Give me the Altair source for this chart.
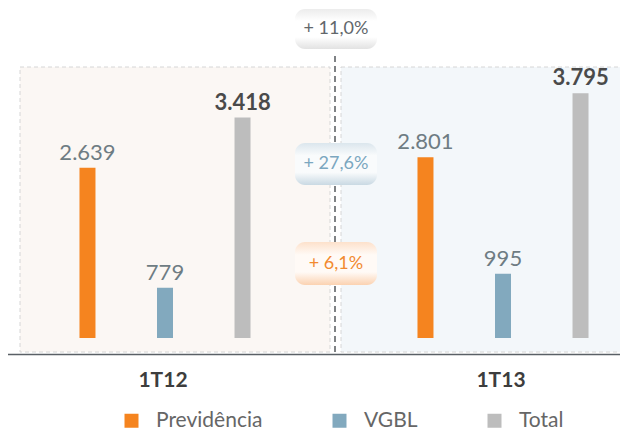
import altair as alt
import pandas as pd

# ---------------- data ----------------
grupos = ["1T12", "1T13"]
series = ["Previdência", "VGBL", "Total"]
previdencia = [2639, 2801]
vgbl = [779, 995]
total = [3418, 3795]
crescimento_rotulos = ["+ 11,0%", "+ 27,6%", "+ 6,1%"]
crescimento_series = ["Total", "VGBL", "Previdência"]

cores = ["#f5841f", "#82a9be", "#bdbdbd"]

rows = []
for s, vals in zip(series, [previdencia, vgbl, total]):
    for g, v in zip(grupos, vals):
        rows.append({"grupo": g, "serie": s, "valor": v,
                     "rotulo": f"{v:,}".replace(",", ".")})
df = pd.DataFrame(rows)
badge_df = pd.DataFrame({"rotulo": crescimento_rotulos, "serie": crescimento_series})

# ---------------- layout / style ----------------
W, H = 612, 346
FONT = "Lato"
y_scale = alt.Scale(domain=[-248, 5116], zero=False, nice=False)
x_scale = alt.Scale(domain=grupos, range=[-12, 664], paddingInner=0, paddingOuter=0)
xo_scale = alt.Scale(domain=series, paddingInner=0, paddingOuter=0.68)

one = pd.DataFrame({"k": [0]})

left_panel = alt.Chart(one).mark_rect(
    fill="#fbf7f4", stroke="#d6d6d6", strokeDash=[4, 3], strokeWidth=1
).encode(x=alt.value(12), x2=alt.value(322), y=alt.value(59), y2=alt.value(344))

right_panel = alt.Chart(one).mark_rect(
    fill="#f3f7fa", stroke="#d6d6d6", strokeDash=[4, 3], strokeWidth=1
).encode(x=alt.value(333), x2=alt.value(640), y=alt.value(59), y2=alt.value(344))

center_line = alt.Chart(one).mark_rule(
    color="#555a5e", strokeDash=[6, 4], strokeWidth=1.5
).encode(x=alt.value(327), y=alt.value(48), y2=alt.value(346))

base = alt.Chart(df).encode(
    x=alt.X("grupo:N", scale=x_scale, sort=grupos,
            axis=alt.Axis(title=None, labelAngle=0, ticks=False, labelPadding=15,
                          labelFont=FONT, labelFontSize=21, labelFontWeight="bold",
                          labelColor="#3d3d3d", domainColor="#5a6066", domainWidth=1.5,
                          labelOffset=-2, zindex=1)),
    xOffset=alt.XOffset("serie:N", scale=xo_scale, sort=series),
    y=alt.Y("valor:Q", scale=y_scale, axis=None),
)

bars = base.mark_bar(size=16).encode(
    color=alt.Color("serie:N", sort=series,
                    scale=alt.Scale(domain=series, range=cores),
                    legend=alt.Legend(title=None, orient="none", legendX=113, legendY=402,
                                      direction="horizontal", symbolType="square",
                                      symbolSize=196, symbolStrokeWidth=0,
                                      labelFont=FONT, labelFontSize=21,
                                      labelColor="#666666", labelOffset=14,
                                      columnPadding=66, padding=0))
)

labels_reg = base.transform_filter(alt.datum.serie != "Total").mark_text(
    baseline="alphabetic", dy=-8, font=FONT, fontSize=22, color="#6e7c83"
).encode(text="rotulo:N")

labels_tot = base.transform_filter(alt.datum.serie == "Total").mark_text(
    baseline="alphabetic", dy=-8, font=FONT, fontSize=22, fontWeight="bold",
    color="#4a4a4a"
).encode(text="rotulo:N")

badge_geom = {
    "Total": ((1, 41), ["#ececec", "#ffffff", "#ffffff", "#e2e2e2"], "#62676b"),
    "VGBL": ((135, 177), ["#dbe6ed", "#f9fbfc", "#f9fbfc", "#c9d9e3"], "#7ba7c0"),
    "Previdência": ((234, 277), ["#fde1cb", "#fffaf6", "#fffaf6", "#fbd2b1"], "#f28a30"),
}

badges = []
for s in crescimento_series:
    (y0, y1), stops, tcol = badge_geom[s]
    grad = alt.Gradient(
        gradient="linear", x1=0, x2=0, y1=0, y2=1,
        stops=[alt.GradientStop(offset=0, color=stops[0]),
               alt.GradientStop(offset=0.3, color=stops[1]),
               alt.GradientStop(offset=0.7, color=stops[2]),
               alt.GradientStop(offset=1, color=stops[3])])
    b = alt.Chart(badge_df).transform_filter(alt.datum.serie == s)
    badges.append(b.mark_rect(fill=grad, cornerRadius=10).encode(
        x=alt.value(287), x2=alt.value(369), y=alt.value(y0), y2=alt.value(y1)))
    badges.append(b.mark_text(font=FONT, fontSize=18, color=tcol, baseline="middle").encode(
        x=alt.value(328), y=alt.value((y0 + y1) / 2), text="rotulo:N"))

chart = alt.layer(
    left_panel, right_panel, center_line, bars, labels_reg, labels_tot, *badges
).properties(
    width=W, height=H,
    autosize=alt.AutoSizeParams(type="none"),
    padding={"left": 0, "top": 0, "right": 0, "bottom": 77},
    background="white",
).configure_view(stroke=None)

chart.save("out.html", embed_options={"renderer": "svg", "actions": False})
